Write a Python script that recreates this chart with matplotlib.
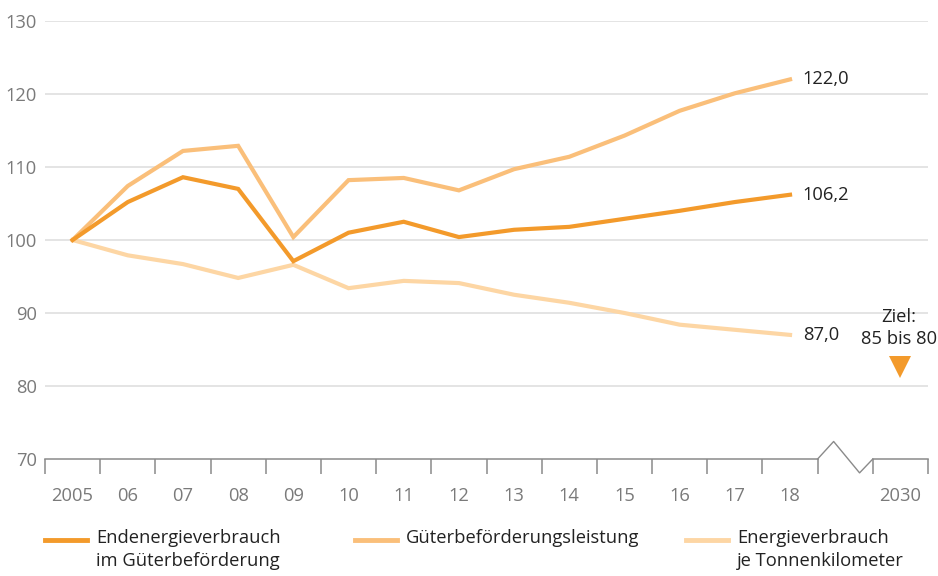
import matplotlib

matplotlib.use("Agg")
import matplotlib.pyplot as plt
from matplotlib.lines import Line2D

plt.rcParams["font.family"] = ["Open Sans", "DejaVu Sans"]

# Index 2005 = 100
years = ["2005", "06", "07", "08", "09", "10", "11", "12", "13", "14", "15", "16", "17", "18"]
target_label = "2030"
endenergie = [100.0, 105.2, 108.6, 107.0, 97.1, 101.0, 102.5, 100.4, 101.4, 101.8, 102.9, 104.0, 105.2, 106.2]
gueterleistung = [100.0, 107.4, 112.2, 112.9, 100.4, 108.2, 108.5, 106.8, 109.7, 111.4, 114.3, 117.7, 120.1, 122.0]
energie_je_tkm = [100.0, 97.9, 96.7, 94.8, 96.6, 93.4, 94.4, 94.1, 92.5, 91.4, 90.0, 88.4, 87.7, 87.0]
target_text = "Ziel:\n85 bis 80"
target_marker = 82.6

series_names = [
    "Endenergieverbrauch\nim Güterbeförderung",
    "Güterbeförderungsleistung",
    "Energieverbrauch\nje Tonnenkilometer",
]

COLORS = {
    "dark": "#f39a2b",
    "mid": "#fabf7a",
    "light": "#fdd6a4",
    "grid": "#e2e2e2",
    "axis": "#8a8a8a",
    "tick": "#7a7a7a",
    "text": "#222222",
}

FS = 13.2

W, H = 938, 576
fig = plt.figure(figsize=(W / 100, H / 100), dpi=100)
left, right, top, bottom = 45, 928, 21, 459
ax = fig.add_axes([left / W, (H - bottom) / H, (right - left) / W, (bottom - top) / H])

x = list(range(len(years)))
target_x = len(years) + 1
lw = 3.0

ax.plot(x, energie_je_tkm, color=COLORS["light"], lw=lw, solid_joinstyle="miter", zorder=3)
ax.plot(x, gueterleistung, color=COLORS["mid"], lw=lw, solid_joinstyle="miter", zorder=4)
ax.plot(x, endenergie, color=COLORS["dark"], lw=lw, solid_joinstyle="miter", zorder=5)

# end-of-line value labels
for vals in (gueterleistung, endenergie, energie_je_tkm):
    ax.text(x[-1] + 0.23, vals[-1], f"{vals[-1]:.1f}".replace(".", ","),
            ha="left", va="center", fontsize=FS, color=COLORS["text"])

# 2030 target
ax.plot([target_x], [target_marker], marker="v", markersize=16, color=COLORS["dark"],
        markeredgewidth=0, zorder=5)
ax.text(target_x - 0.03, target_marker + 2.6, target_text, ha="center", va="bottom",
        fontsize=FS, color=COLORS["text"], linespacing=1.3)

ax.set_xlim(-0.5, target_x + 0.5)
ax.set_ylim(70, 130)

ax.set_yticks(range(80, 131, 10))
ax.tick_params(axis="y", length=0, pad=6, labelsize=FS, labelcolor=COLORS["tick"])
ax.set_yticks([70], minor=True)
ax.set_yticklabels(["70"], minor=True)
ax.tick_params(axis="y", which="minor", length=0, pad=6, labelsize=FS, labelcolor=COLORS["tick"])
ax.grid(axis="y", color=COLORS["grid"], lw=1.3)
ax.set_axisbelow(True)

ax.set_xticks(x + [target_x])
ax.set_xticklabels(years + [target_label])
ax.tick_params(axis="x", which="major", length=0, pad=20, labelsize=FS, labelcolor=COLORS["tick"])
ax.set_xticks([i - 0.5 for i in x] + [len(years) - 0.5, target_x - 0.5, target_x + 0.5], minor=True)
ax.tick_params(axis="x", which="minor", length=11, width=1.1, color=COLORS["axis"], direction="out")

for side in ax.spines.values():
    side.set_visible(False)

# baseline with a break between 2018 and 2030
brk0, brk1 = len(years) - 0.5, target_x - 0.5
ax.plot([-0.5, brk0], [70, 70], color=COLORS["axis"], lw=1.1, clip_on=False, zorder=6)
ax.plot([brk0, brk0 + 0.29, brk1 - 0.24, brk1], [70, 72.4, 68.1, 70],
        color=COLORS["axis"], lw=1.0, clip_on=False, zorder=6)
ax.plot([brk1, target_x + 0.5], [70, 70], color=COLORS["axis"], lw=1.1, clip_on=False, zorder=6)

# legend
legend_items = [
    (45, COLORS["dark"], series_names[0]),
    (355, COLORS["mid"], series_names[1]),
    (686, COLORS["light"], series_names[2]),
]
ly = 540
for lx, col, name in legend_items:
    fig.add_artist(Line2D([lx / W, (lx + 42) / W], [(H - ly) / H] * 2, color=col, lw=3.5))
    fig.text((lx + 51) / W, (H - ly + 11) / H, name, ha="left", va="top",
             fontsize=FS, color=COLORS["text"], linespacing=1.35)

fig.savefig("out.png", dpi=100, facecolor="white")
